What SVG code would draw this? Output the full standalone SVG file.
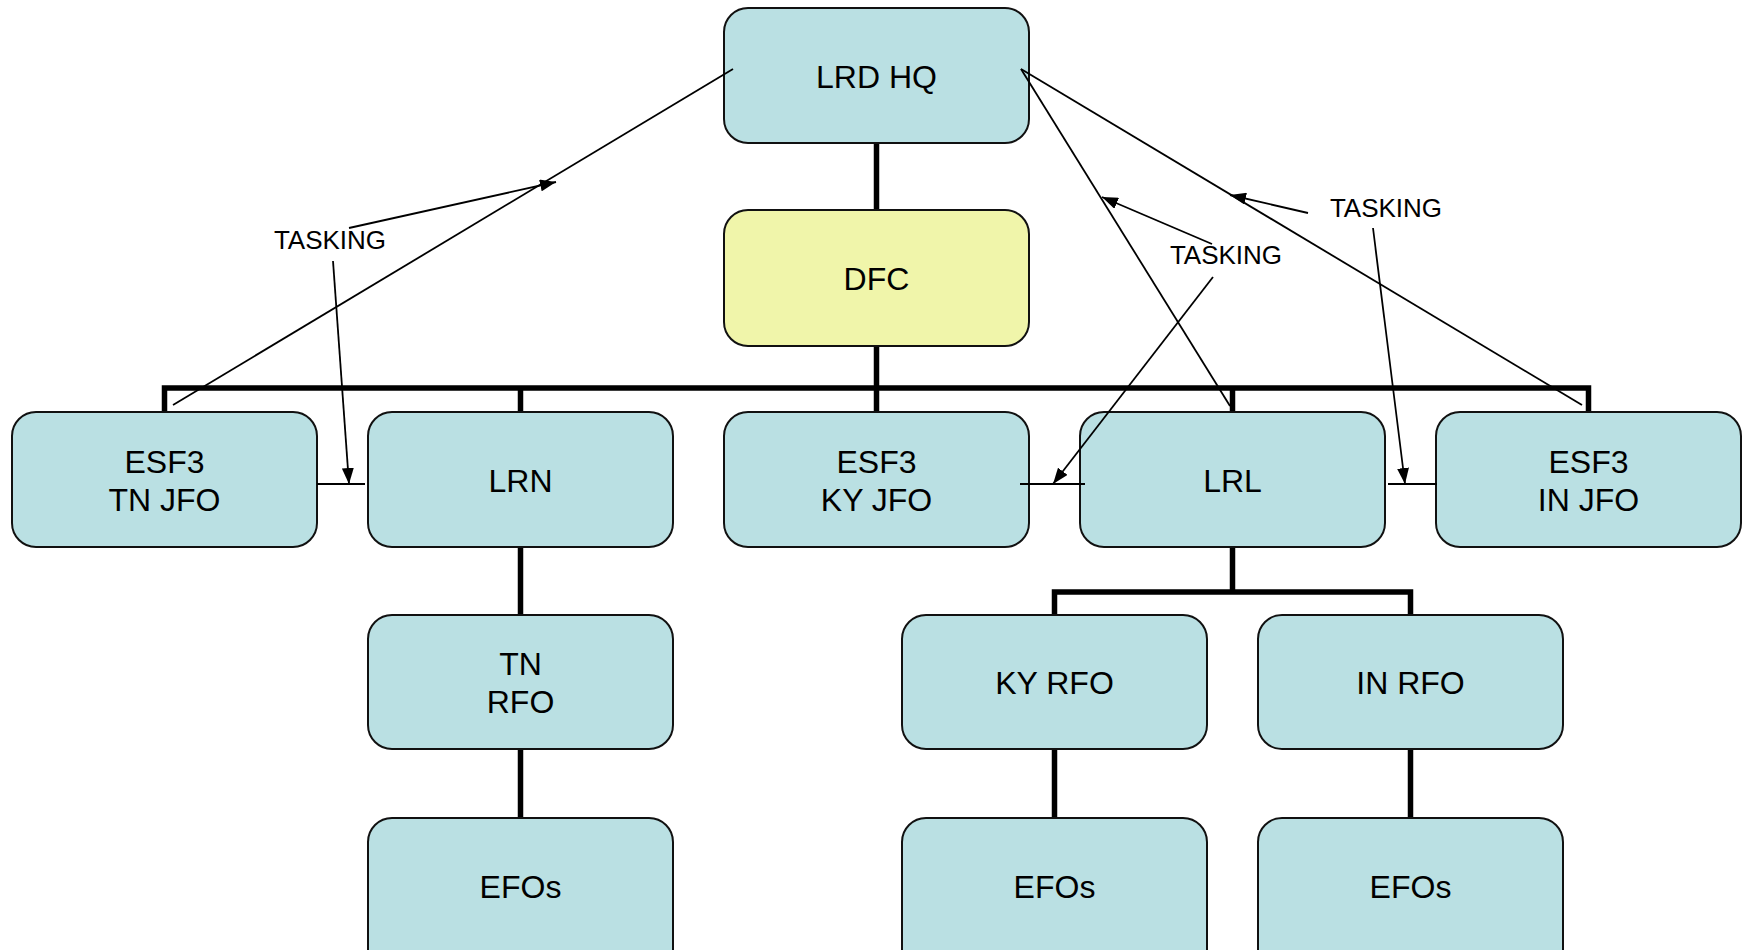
<svg xmlns="http://www.w3.org/2000/svg" width="1743" height="950" viewBox="0 0 1743 950">
<defs>
<style>
.box{fill:#BAE0E3;stroke:#111;stroke-width:2}
.dfc{fill:#F0F5AA;stroke:#111;stroke-width:2}
.lbl{font-family:"Liberation Sans",Arial,sans-serif;font-size:32px;fill:#000;text-anchor:middle}
.tk{font-family:"Liberation Sans",Arial,sans-serif;font-size:26px;fill:#000;text-anchor:middle}
.bold{fill:none;stroke:#000;stroke-width:5.5}
.thin{fill:none;stroke:#000;stroke-width:1.8}
</style>
<marker id="ah" viewBox="0 0 16 12" refX="16" refY="6" markerWidth="16" markerHeight="12" markerUnits="userSpaceOnUse" orient="auto">
<path d="M0,0 L16,6 L0,12 Z" fill="#000"/>
</marker>
</defs>
<rect width="1743" height="950" fill="#fff"/>
<g id="connectors">
<line class="bold" x1="876.5" y1="143" x2="876.5" y2="210"/>
<line class="bold" x1="876.5" y1="346" x2="876.5" y2="412"/>
<polyline class="bold" points="164.5,412 164.5,388 1588.5,388 1588.5,412"/>
<line class="bold" x1="520.5" y1="388" x2="520.5" y2="412"/>
<line class="bold" x1="1232.5" y1="388" x2="1232.5" y2="412"/>
<line class="bold" x1="520.5" y1="547" x2="520.5" y2="615"/>
<line class="bold" x1="520.5" y1="749" x2="520.5" y2="818"/>
<line class="bold" x1="1232.5" y1="547" x2="1232.5" y2="592"/>
<polyline class="bold" points="1054.5,615 1054.5,592 1410.5,592 1410.5,615"/>
<line class="bold" x1="1054.5" y1="749" x2="1054.5" y2="818"/>
<line class="bold" x1="1410.5" y1="749" x2="1410.5" y2="818"/>
</g>
<g id="lrd-hq"><rect class="box" x="724" y="8" width="305" height="135" rx="24"/><text class="lbl" x="876.5" y="88">LRD HQ</text></g>
<g id="dfc"><rect class="dfc" x="724" y="210" width="305" height="136" rx="24"/><text class="lbl" x="876.5" y="290">DFC</text></g>
<g id="esf3-tn-jfo"><rect class="box" x="12" y="412" width="305" height="135" rx="24"/><text class="lbl" x="164.5" y="473">ESF3</text><text class="lbl" x="164.5" y="511">TN JFO</text></g>
<g id="lrn"><rect class="box" x="368" y="412" width="305" height="135" rx="24"/><text class="lbl" x="520.5" y="492">LRN</text></g>
<g id="esf3-ky-jfo"><rect class="box" x="724" y="412" width="305" height="135" rx="24"/><text class="lbl" x="876.5" y="473">ESF3</text><text class="lbl" x="876.5" y="511">KY JFO</text></g>
<g id="lrl"><rect class="box" x="1080" y="412" width="305" height="135" rx="24"/><text class="lbl" x="1232.5" y="492">LRL</text></g>
<g id="esf3-in-jfo"><rect class="box" x="1436" y="412" width="305" height="135" rx="24"/><text class="lbl" x="1588.5" y="473">ESF3</text><text class="lbl" x="1588.5" y="511">IN JFO</text></g>
<g id="tn-rfo"><rect class="box" x="368" y="615" width="305" height="134" rx="24"/><text class="lbl" x="520.5" y="675">TN</text><text class="lbl" x="520.5" y="713">RFO</text></g>
<g id="ky-rfo"><rect class="box" x="902" y="615" width="305" height="134" rx="24"/><text class="lbl" x="1054.5" y="694">KY RFO</text></g>
<g id="in-rfo"><rect class="box" x="1258" y="615" width="305" height="134" rx="24"/><text class="lbl" x="1410.5" y="694">IN RFO</text></g>
<g id="tn-efos"><rect class="box" x="368" y="818" width="305" height="160" rx="24"/><text class="lbl" x="520.5" y="898">EFOs</text></g>
<g id="ky-efos"><rect class="box" x="902" y="818" width="305" height="160" rx="24"/><text class="lbl" x="1054.5" y="898">EFOs</text></g>
<g id="in-efos"><rect class="box" x="1258" y="818" width="305" height="160" rx="24"/><text class="lbl" x="1410.5" y="898">EFOs</text></g>
<g id="tasking-connectors">
<line class="thin" x1="733" y1="69" x2="173" y2="405"/>
<line class="thin" x1="1021" y1="69" x2="1230" y2="406"/>
<line class="thin" x1="1021" y1="69" x2="1582" y2="405"/>
<line class="thin" x1="317" y1="484" x2="365" y2="484"/>
<line class="thin" x1="1020" y1="484" x2="1085" y2="484"/>
<line class="thin" x1="1388" y1="484" x2="1437" y2="484"/>
<line class="thin" x1="349" y1="228" x2="556" y2="182" marker-end="url(#ah)"/>
<line class="thin" x1="333" y1="261" x2="349" y2="484" marker-end="url(#ah)"/>
<line class="thin" x1="1212" y1="244" x2="1102" y2="197" marker-end="url(#ah)"/>
<line class="thin" x1="1213" y1="277" x2="1053" y2="484" marker-end="url(#ah)"/>
<line class="thin" x1="1308" y1="213" x2="1230" y2="195" marker-end="url(#ah)"/>
<line class="thin" x1="1373" y1="228" x2="1405" y2="484" marker-end="url(#ah)"/>
</g>
<g id="tasking-labels">
<text class="tk" x="330" y="249">TASKING</text>
<text class="tk" x="1226" y="264">TASKING</text>
<text class="tk" x="1386" y="217">TASKING</text>
</g>
</svg>
